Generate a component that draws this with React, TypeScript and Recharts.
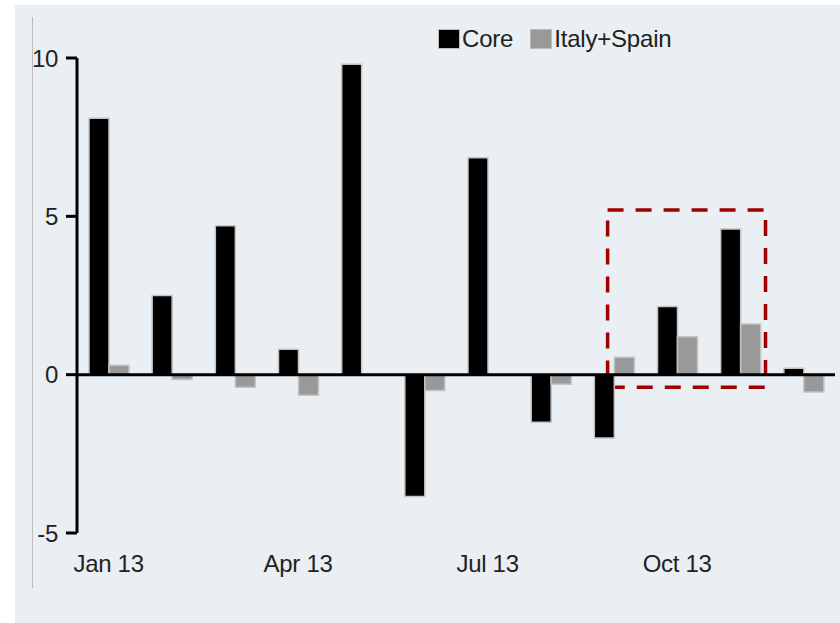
import { BarChart, Bar, XAxis, YAxis, ReferenceLine, ReferenceArea } from 'recharts';

const months = [
  'Jan 13', 'Feb 13', 'Mar 13', 'Apr 13', 'May 13', 'Jun 13',
  'Jul 13', 'Aug 13', 'Sep 13', 'Oct 13', 'Nov 13', 'Dec 13',
];
const core = [8.1, 2.5, 4.7, 0.8, 9.8, -3.85, 6.85, -1.5, -2.0, 2.15, 4.6, 0.2];
const italySpain = [0.3, -0.15, -0.4, -0.65, 0, -0.5, 0, -0.3, 0.55, 1.2, 1.6, -0.55];
const yTicks = [-5, 0, 5, 10];

// highlighted region (Sep–Nov), in category-index units and y values
const boxX = [8.4, 10.9];
const boxY = [-0.4, 5.2];

const series = [
  { key: 'core', name: 'Core', color: '#000000' },
  { key: 'italySpain', name: 'Italy+Spain', color: '#999999' },
];

const data = months.map((m, i) => ({ month: m, pos: i + 0.5, core: core[i], italySpain: italySpain[i] }));

const font = "'Liberation Sans', Arial, sans-serif";
const tickStyle = { fontSize: 24, fill: '#222', fontFamily: font, letterSpacing: -0.3 };

export default function App() {
  return (
    <div style={{ position: 'absolute', left: 0, top: 0, width: 840, height: 623, background: '#fff' }}>
      <div style={{ position: 'absolute', left: 15, top: 5, width: 825, height: 618, background: '#e9eff3' }} />
      <div style={{ position: 'absolute', left: 32, top: 17, width: 1, height: 571, background: '#bcbcbc' }} />

      {/* legend */}
      <div
        style={{
          position: 'absolute', left: 438, top: 25, display: 'flex', alignItems: 'center',
          fontFamily: font, fontSize: 24, color: '#222', letterSpacing: -0.2,
        }}
      >
        {series.map((s) => (
          <div key={s.key} style={{ display: 'flex', alignItems: 'center', marginRight: 17 }}>
            <span style={{ width: 20, height: 18, background: s.color, border: '1px solid #bbb', marginRight: 2 }} />
            <span>{s.name}</span>
          </div>
        ))}
      </div>

      <div style={{ position: 'absolute', left: 0, top: 0 }}>
        <BarChart
          width={840}
          height={623}
          data={data}
          margin={{ top: 58, right: 5, bottom: 60, left: 0 }}
          barSize={20}
          barGap={0}
        >
          <XAxis
            dataKey="month"
            interval={2}
            axisLine={false}
            tickLine={false}
            tickSize={0}
            tickMargin={22}
            height={30}
            tick={tickStyle}
          />
          <XAxis xAxisId="box" dataKey="pos" type="number" domain={[0, 12]} allowDataOverflow hide />
          <YAxis
            domain={[-5, 10]}
            ticks={yTicks}
            width={77}
            axisLine={{ stroke: '#000', strokeWidth: 3 }}
            tickLine={{ stroke: '#000', strokeWidth: 3 }}
            tickSize={11}
            tickMargin={8}
            tick={tickStyle}
          />
          {series.map((s) => (
            <Bar
              key={s.key}
              dataKey={s.key}
              name={s.name}
              fill={s.color}
              stroke="#c4c4c4"
              strokeWidth={1.5}
              isAnimationActive={false}
            />
          ))}
          <ReferenceLine y={0} stroke="#000" strokeWidth={3} />
          <ReferenceArea
            xAxisId="box"
            x1={boxX[0]}
            x2={boxX[1]}
            y1={boxY[0]}
            y2={boxY[1]}
            fill="none"
            stroke="#a00000"
            strokeWidth={3.5}
            strokeDasharray="16 12"
          />
        </BarChart>
      </div>
    </div>
  );
}
